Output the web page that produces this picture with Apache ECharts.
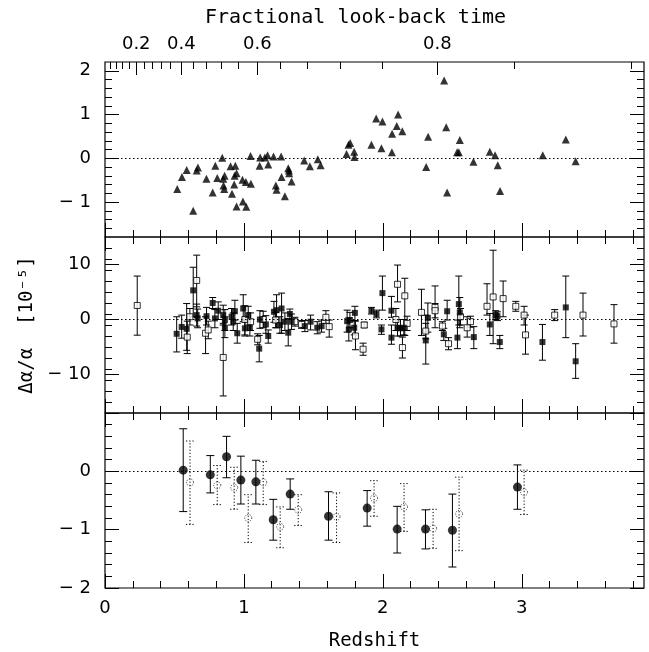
<!DOCTYPE html>
<html><head><meta charset="utf-8">
<script src="https://cdn.jsdelivr.net/npm/echarts@6/dist/echarts.min.js"></script>
<style>html,body{margin:0;padding:0;background:#fff}#c{width:649px;height:652px}</style>
</head><body><div id="c"></div>
<script>
// ---------- data ----------
const XMAX = 3.88;
const xMajor = [0, 1, 2, 3];
const lookLabels = ['0.2', '0.4', '0.6', '0.8'];
const lookMajorZ = [0.225, 0.550, 1.097, 2.393];
const lookMinorZ = [0.040, 0.082, 0.127, 0.174, 0.280, 0.339, 0.403, 0.473, 0.635, 0.730, 0.836, 0.957, 1.260, 1.456, 1.695, 1.996, 2.947, 3.790];

// top panel: triangles [z, value]
const triZ = [0.52,0.554,0.588,0.635,0.66,0.669,0.73,0.775,0.794,0.808,0.844,0.853,0.858,0.861,0.851,0.904,0.914,0.93,0.933,0.938,0.947,0.947,0.99,0.993,1.014,1.017,1.05,1.048,1.113,1.117,1.151,1.17,1.175,1.213,1.23,1.235,1.268,1.271,1.295,1.319,1.324,1.326,1.343,1.434,1.475,1.532,1.552,1.739,1.753,1.765,1.794,1.796,1.918,1.952,1.99,1.997,2.065,2.067,2.10,2.11,2.14,2.312,2.326,2.441,2.456,2.463,2.535,2.547,2.554,2.652,2.77,2.808,2.827,2.844,3.151,3.317,3.388];
const triV = [-0.70,-0.43,-0.27,-1.20,-0.28,-0.21,-0.47,-0.78,-0.17,-0.45,0.01,-0.62,-0.70,-0.40,-0.47,-0.18,-0.81,-0.60,-0.40,-0.17,-0.34,-1.10,-0.49,-0.99,-0.54,-1.11,-0.58,0.05,-0.17,0.02,0.02,0.07,-0.14,0.04,-0.62,-0.72,0.04,-0.43,-0.87,-0.23,-0.28,-0.34,-0.53,-0.05,-0.18,-0.02,-0.16,0.10,0.31,0.35,0.15,0.03,0.31,0.91,0.23,0.84,0.14,0.56,0.74,1.00,0.62,-0.20,0.49,1.78,0.71,-0.78,0.14,0.14,0.42,-0.08,0.15,0.07,-0.16,-0.75,0.07,0.43,-0.07];

// middle panel: [z, value, lower, upper]
const midFilled = [
 [0.516,-2.6,-5.9,0.5],[0.552,-1.35,-3.4,0.8],[0.588,-1.7,-5.6,2.9],[0.635,5.3,0.5,9.5],
 [0.66,0.8,-1.2,2.8],[0.667,0.2,-1.5,1.9],[0.731,0.6,-1.0,2.2],[0.775,3.0,2.0,4.0],
 [0.791,0.2,-1.5,1.8],[0.815,1.6,0.0,3.2],[0.851,0.8,-1.0,2.6],[0.863,-1.5,-3.3,0.5],
 [0.863,-0.1,-2.0,1.8],[0.911,0.5,-1.0,2.0],[0.935,1.5,-0.1,3.5],[0.923,-0.4,-2.0,1.2],
 [0.952,-2.5,-4.3,-0.7],[0.995,2.0,-0.4,4.5],[1.007,-1.6,-3.0,-0.2],[1.031,0.8,-1.0,2.4],
 [1.043,-1.5,-3.0,0.0],[1.11,-5.3,-7.7,-2.9],[1.115,0.0,-1.6,1.6],[1.158,-0.9,-2.5,0.7],
 [1.175,-3.0,-4.3,-1.9],[1.216,1.4,-0.5,3.3],[1.235,1.7,-1.5,4.5],[1.271,2.0,-2.5,4.8],
 [1.259,-1.0,-2.5,0.5],[1.295,-0.4,-2.0,1.2],[1.319,-2.4,-4.8,0.2],[1.331,1.0,0.1,1.9],
 [1.343,-0.4,-1.8,1.0],[1.439,-1.2,-2.2,-0.2],[1.480,-0.4,-1.9,0.8],[1.528,-1.5,-2.6,-0.4],
 [1.559,-1.2,-2.3,-0.1],[1.743,-0.3,-2.3,1.7],[1.763,-0.1,-1.5,1.3],[1.755,-1.8,-3.9,0.3],
 [1.799,1.2,-0.2,2.4],[1.794,-1.5,-2.8,-0.2],[1.918,1.6,1.0,2.2],[1.954,1.0,0.3,1.7],
 [1.997,4.8,1.7,7.9],[1.99,-1.8,-2.7,-1.0],[2.062,1.6,0.4,4.2],[2.062,-3.3,-4.5,-1.0],
 [2.106,-1.5,-3.0,0.0],[2.127,-1.6,-3.0,0.0],[2.151,-1.5,-2.8,0.0],[2.309,-3.8,-8.1,0.8],
 [2.324,0.3,-2.3,3.0],[2.439,-2.7,-3.8,-1.6],[2.463,1.5,-0.1,3.5],[2.537,-3.3,-5.3,-0.1],
 [2.547,2.8,-1.0,7.9],[2.554,1.3,-1.5,4.0],[2.655,-3.2,-5.3,-1.3],[2.770,-0.9,-2.9,1.1],
 [2.813,0.8,0.0,1.6],[2.825,0.6,-0.2,1.4],[2.842,-4.1,-5.3,-2.9],[3.149,-4.1,-7.4,-0.9],
 [3.317,2.2,-3.3,7.9],[3.388,-7.6,-10.7,-4.4]
];
const midOpen = [
 [0.232,2.55,-2.85,7.9],[0.592,-3.2,-6.2,-0.3],[0.611,0.5,-1.0,2.0],[0.66,7.1,2.3,11.7],
 [0.724,-2.5,-6.2,0.5],[0.743,-1.9,-3.5,-0.3],[0.851,-6.9,-13.9,-0.7],[1.007,0.0,-2.8,2.5],
 [1.048,-0.4,-2.0,1.2],[1.099,-3.6,-4.6,-2.6],[1.139,0.0,-1.5,1.5],[1.228,-0.1,-1.5,1.3],
 [1.367,-0.4,-1.2,0.4],[1.415,-0.9,-1.6,-0.2],[1.59,0.4,-0.7,1.6],[1.614,-1.3,-3.2,-0.1],
 [1.803,-3.0,-5.5,-0.3],[1.858,-5.4,-6.5,-4.3],[1.866,-1.0,-1.5,-0.5],[2.094,0.0,-2.0,2.0],
 [2.106,6.4,3.2,9.9],[2.158,4.3,-2.9,7.5],[2.141,-5.1,-7.0,-3.2],[2.175,-0.7,-2.0,0.6],
 [2.278,1.3,-2.9,5.5],[2.309,-2.1,-3.5,-0.7],[2.376,2.2,-1.5,6.1],[2.376,1.6,0.3,2.9],
 [2.429,-1.2,-2.0,-0.4],[2.473,-4.4,-5.5,-3.3],[2.559,0.5,-1.0,2.0],[2.607,-1.5,-3.2,0.5],
 [2.631,-0.4,-1.4,0.6],[2.750,2.4,0.8,6.5],[2.794,4.1,-4.4,12.6],[2.866,3.8,0.5,7.0],
 [2.957,2.4,1.5,3.3],[3.017,0.8,-1.0,2.4],[3.027,-2.8,-6.3,0.8],[3.237,0.8,-0.2,1.8],
 [3.441,0.8,-3.0,4.8],[3.664,-0.8,-4.3,2.7]
];

// bottom panel: [z, value, lower, upper]
const binSolid = [
 [0.563,0.02,-0.69,0.73],[0.758,-0.06,-0.37,0.27],[0.875,0.25,-0.11,0.60],[0.978,-0.15,-0.56,0.26],
 [1.086,-0.18,-0.56,0.19],[1.211,-0.83,-1.18,-0.48],[1.333,-0.39,-0.65,-0.13],[1.609,-0.77,-1.18,-0.35],
 [1.887,-0.63,-0.94,-0.33],[2.103,-0.99,-1.40,-0.60],[2.307,-0.99,-1.33,-0.66],[2.501,-1.01,-1.64,-0.39],
 [2.969,-0.27,-0.65,0.11]
];
const binDotted = [
 [0.612,-0.19,-0.91,0.52],[0.808,-0.24,-0.57,0.10],[0.930,-0.28,-0.65,0.07],[1.031,-0.80,-1.22,-0.40],
 [1.139,-0.19,-0.57,0.17],[1.261,-0.95,-1.31,-0.61],[1.391,-0.66,-0.93,-0.40],[1.667,-0.78,-1.22,-0.37],
 [1.937,-0.46,-0.77,-0.16],[2.153,-0.61,-1.03,-0.21],[2.362,-0.98,-1.32,-0.65],[2.549,-0.73,-1.36,-0.10],
 [3.017,-0.36,-0.74,0.02]
];

const yRanges = [[-1.8, 2.2], [-17, 15], [-2, 1]];
const yMajor = [[-1, 0, 1, 2], [-10, 0, 10], [-2, -1, 0, 1]];
const yLabels = [[-1, 0, 1, 2], [-10, 0, 10], [-2, -1, 0]];
const yMinorStep = [0.2, 2, 0.2];
const yTitle = 'Δα/α  [10⁻⁵]';
const xTitle = 'Redshift';
const topTitle = 'Fractional look-back time';

// ---------- helpers ----------
const FONT = 'DejaVu Sans Mono';
const NUMFONT = 'DejaVu Sans';
function steps(a, b, s, skip) {
  const out = [];
  for (let i = 0; ; i++) {
    const v = +(a + i * s).toFixed(6);
    if (v > b + 1e-9) break;
    if (!skip.some(m => Math.abs(m - v) < 1e-9)) out.push(v);
  }
  return out;
}
const fmt = v => (v < 0 ? '− ' + Math.abs(v) : String(v));
const xMinor = steps(0.2, 3.8, 0.2, xMajor);
const G = [{top: 62, height: 175}, {top: 237, height: 176}, {top: 413, height: 175}];
const LEFT = 105, W = 539;

const lblStyle = {color: '#000', fontSize: 18, fontFamily: NUMFONT};
function xAx(g, pos, ticks, len, extra) {
  return Object.assign({
    type: 'value', gridIndex: g, position: pos, min: 0, max: XMAX,
    axisLine: {show: false, onZero: false}, splitLine: {show: false},
    axisTick: {show: true, inside: true, length: len, customValues: ticks, lineStyle: {color: '#000', width: 1}},
    axisLabel: {show: false}
  }, extra || {});
}
function yAx(g, pos, ticks, len, extra) {
  return Object.assign({
    type: 'value', gridIndex: g, position: pos, min: yRanges[g][0], max: yRanges[g][1],
    axisLine: {show: false, onZero: false}, splitLine: {show: false},
    axisTick: {show: true, inside: true, length: len, customValues: ticks, lineStyle: {color: '#000', width: 1}},
    axisLabel: {show: false}
  }, extra || {});
}

const xAxes = [], yAxes = [];
for (let g = 0; g < 3; g++) {
  const bottomExtra = g === 2 ? {
    axisLabel: Object.assign({show: true, customValues: xMajor, margin: 11, formatter: v => fmt(v)}, lblStyle),
    name: xTitle, nameLocation: 'middle', nameGap: 44,
    nameTextStyle: {color: '#000', fontSize: 19, fontFamily: FONT}
  } : {};
  xAxes.push(xAx(g, 'bottom', xMajor, 14, bottomExtra));
  xAxes.push(xAx(g, 'bottom', xMinor, 7));
  if (g === 0) {
    xAxes.push(xAx(g, 'top', lookMajorZ, 13, {
      axisLabel: Object.assign({show: true, customValues: lookMajorZ, margin: 9,
        formatter: v => { const i = lookMajorZ.findIndex(m => Math.abs(m - v) < 1e-6); return i >= 0 ? lookLabels[i] : ''; }}, lblStyle),
      name: topTitle, nameLocation: 'middle', nameGap: 34,
      nameTextStyle: {color: '#000', fontSize: 20, fontFamily: FONT, padding: [0, 38, 0, 0]}
    }));
    xAxes.push(xAx(g, 'top', lookMinorZ, 7));
  } else {
    xAxes.push(xAx(g, 'top', xMajor, 14));
    xAxes.push(xAx(g, 'top', xMinor, 7));
  }
  const yMin = steps(yRanges[g][0] + yMinorStep[g], yRanges[g][1] - yMinorStep[g] / 2, yMinorStep[g], yMajor[g]);
  const leftExtra = {
    axisLabel: Object.assign({show: true, customValues: yLabels[g], margin: 14, formatter: v => fmt(v)}, lblStyle)
  };
  if (g === 1) {
    leftExtra.name = yTitle; leftExtra.nameLocation = 'middle'; leftExtra.nameGap = 66; leftExtra.nameRotate = 90;
    leftExtra.nameTextStyle = {color: '#000', fontSize: 19, fontFamily: FONT};
  }
  yAxes.push(yAx(g, 'left', yMajor[g], 14, leftExtra));
  yAxes.push(yAx(g, 'left', yMin, 7));
  yAxes.push(yAx(g, 'right', yMajor[g], 14));
  yAxes.push(yAx(g, 'right', yMin, 7));
}

function errRender(cap, dashed) {
  return function (params, api) {
    const x = api.value(0), lo = api.value(2), hi = api.value(3);
    const a = api.coord([x, lo]), b = api.coord([x, hi]);
    const style = {stroke: '#000', lineWidth: 1, lineDash: dashed ? [1.2, 2] : null, fill: null};
    return {type: 'group', children: [
      {type: 'line', shape: {x1: a[0], y1: a[1], x2: b[0], y2: b[1]}, style: style},
      {type: 'line', shape: {x1: a[0] - cap, y1: a[1], x2: a[0] + cap, y2: a[1]}, style: style},
      {type: 'line', shape: {x1: b[0] - cap, y1: b[1], x2: b[0] + cap, y2: b[1]}, style: style}
    ]};
  };
}
const zeroLine = {
  silent: true, symbol: 'none', label: {show: false},
  lineStyle: {type: [1.5, 2.5], color: '#000', width: 1},
  data: [{yAxis: 0}]
};

const series = [
  {type: 'scatter', xAxisIndex: 0, yAxisIndex: 0, symbol: 'triangle', symbolSize: 8,
   itemStyle: {color: '#000'}, data: triZ.map((z, i) => [z, triV[i]]), markLine: zeroLine, z: 3},
  {type: 'custom', xAxisIndex: 4, yAxisIndex: 4, renderItem: errRender(3.5, false),
   encode: {x: 0, y: [1, 2, 3]}, data: midFilled.concat(midOpen), z: 2,
   markLine: zeroLine},
  {type: 'scatter', xAxisIndex: 4, yAxisIndex: 4, symbol: 'rect', symbolSize: 6,
   itemStyle: {color: '#fff', borderColor: '#000', borderWidth: 1}, data: midOpen.map(r => [r[0], r[1]]), z: 3},
  {type: 'scatter', xAxisIndex: 4, yAxisIndex: 4, symbol: 'rect', symbolSize: 6,
   itemStyle: {color: '#000'}, data: midFilled.map(r => [r[0], r[1]]), z: 4},
  {type: 'custom', xAxisIndex: 8, yAxisIndex: 8, renderItem: errRender(4, true),
   encode: {x: 0, y: [1, 2, 3]}, data: binDotted, z: 2, markLine: zeroLine},
  {type: 'scatter', xAxisIndex: 8, yAxisIndex: 8, symbol: 'circle', symbolSize: 7,
   itemStyle: {color: 'rgba(0,0,0,0)', borderColor: '#000', borderWidth: 1, borderType: [1, 1.5]},
   data: binDotted.map(r => [r[0], r[1]]), z: 3},
  {type: 'custom', xAxisIndex: 8, yAxisIndex: 8, renderItem: errRender(4, false),
   encode: {x: 0, y: [1, 2, 3]}, data: binSolid, z: 2},
  {type: 'scatter', xAxisIndex: 8, yAxisIndex: 8, symbol: 'circle', symbolSize: 9,
   itemStyle: {color: '#000'}, data: binSolid.map(r => [r[0], r[1]]), z: 4}
];

const chart = echarts.init(document.getElementById('c'), null, {renderer: 'canvas'});
chart.setOption({
  animation: false,
  backgroundColor: '#fff',
  grid: G.map(g => ({left: LEFT, top: g.top, width: W, height: g.height, show: true,
    borderColor: '#000', borderWidth: 1.2, backgroundColor: 'transparent', containLabel: false})),
  xAxis: xAxes,
  yAxis: yAxes,
  series: series
});
</script></body></html>
